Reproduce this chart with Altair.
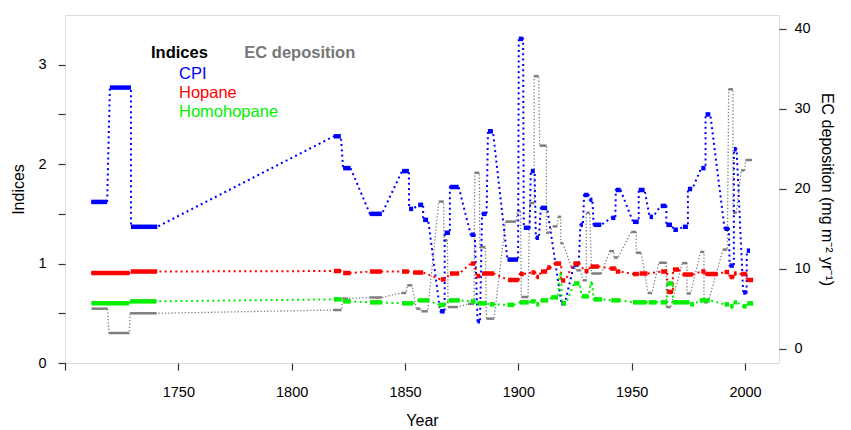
import altair as alt
import pandas as pd

# ---------------- data (sample intervals: start year, end year, value) ----------------
cpi_start = [1711.6, 1719.8, 1729.1, 1818.6, 1822.7, 1834.5, 1848.7, 1851.8, 1855.8, 1858.0,
             1865.5, 1867.5, 1869.8, 1879.0, 1882.0, 1884.0, 1886.6, 1895.2, 1900.2, 1902.4,
             1905.5, 1907.7, 1909.9, 1919.0, 1924.6, 1927.4, 1929.0, 1931.5, 1933.2, 1941.0,
             1943.0, 1950.6, 1953.1, 1957.9, 1962.8, 1965.3, 1968.4, 1972.6, 1974.8, 1980.7,
             1982.6, 1991.0, 1993.2, 1995.1, 1999.2, 2000.8]
cpi_end = [1718.6, 1729.1, 1740.7, 1821.7, 1826.0, 1839.8, 1851.7, 1853.6, 1858.0, 1860.2,
           1867.5, 1869.8, 1873.7, 1880.8, 1883.1, 1886.0, 1888.8, 1899.9, 1902.1, 1905.0,
           1907.2, 1909.1, 1912.7, 1920.5, 1926.6, 1928.5, 1931.0, 1932.7, 1936.6, 1942.8,
           1945.1, 1953.1, 1955.7, 1959.4, 1965.3, 1967.8, 1970.4, 1974.8, 1976.7, 1982.6,
           1984.7, 1992.9, 1995.1, 1996.3, 2000.7, 2002.2]
cpi_val = [1.62, 2.77, 1.37, 2.28, 1.96, 1.50, 1.93, 1.55, 1.59, 1.44,
           0.52, 1.31, 1.77, 1.29, 0.42, 1.50, 2.33, 1.04, 3.26, 1.36,
           1.93, 1.26, 1.56, 0.60, 0.99, 1.39, 1.69, 1.64, 1.39, 1.46,
           1.74, 1.42, 1.74, 1.47, 1.58, 1.39, 1.34, 1.37, 1.75, 1.96,
           2.50, 1.35, 0.98, 2.15, 0.71, 1.13]

hop_start = [1711.6, 1729.0, 1818.6, 1822.7, 1834.5, 1848.7, 1853.6, 1865.8, 1869.8, 1879.0,
             1881.5, 1884.0, 1895.5, 1900.6, 1905.8, 1908.0, 1910.0, 1912.7, 1916.0, 1918.9,
             1924.3, 1929.2, 1931.8, 1940.5, 1943.0, 1950.6, 1953.5, 1963.0, 1965.7, 1968.2,
             1972.6, 1980.7, 1982.6, 1991.0, 1993.2, 1995.1, 1998.3, 2000.7]
hop_end = [1728.5, 1740.7, 1821.7, 1826.0, 1839.8, 1851.7, 1858.0, 1867.9, 1873.9, 1880.8,
           1883.1, 1889.3, 1900.2, 1902.4, 1907.5, 1909.1, 1912.7, 1914.3, 1918.9, 1920.7,
           1927.0, 1931.0, 1935.5, 1943.0, 1945.0, 1953.1, 1957.0, 1965.7, 1968.2, 1970.9,
           1977.0, 1982.6, 1988.0, 1993.0, 1995.1, 1996.3, 2000.7, 2003.6]
hop_val = [0.905, 0.92, 0.925, 0.905, 0.92, 0.92, 0.91, 0.84, 0.90, 1.00,
           0.875, 0.90, 0.835, 0.895, 0.91, 0.865, 0.92, 0.96, 1.00, 0.83,
           1.00, 0.925, 0.97, 0.95, 0.92, 0.895, 0.90, 0.92, 0.715, 0.94,
           0.89, 0.92, 0.895, 0.915, 0.865, 0.90, 0.895, 0.835]

homo_start = [1711.7, 1728.7, 1818.6, 1822.7, 1834.5, 1848.7, 1855.8, 1865.0, 1869.3, 1879.0,
              1882.0, 1887.4, 1895.2, 1900.6, 1905.5, 1907.9, 1910.0, 1914.5, 1918.2, 1919.2,
              1924.6, 1928.0, 1931.8, 1933.2, 1941.0, 1950.6, 1957.5, 1962.8, 1965.7, 1968.2,
              1975.8, 1980.0, 1991.0, 1993.5, 1995.3, 1999.0, 2001.0]
homo_end = [1728.2, 1740.4, 1822.0, 1826.0, 1839.8, 1853.6, 1860.5, 1867.8, 1874.2, 1881.2,
            1886.0, 1889.6, 1898.1, 1904.6, 1907.5, 1909.1, 1913.2, 1917.5, 1918.9, 1921.0,
            1927.0, 1931.0, 1932.6, 1937.0, 1945.0, 1956.5, 1961.0, 1965.7, 1968.2, 1975.5,
            1977.5, 1984.5, 1993.0, 1995.0, 1996.5, 2000.7, 2003.6]
homo_val = [0.60, 0.62, 0.64, 0.62, 0.61, 0.60, 0.63, 0.585, 0.63, 0.62,
            0.60, 0.59, 0.585, 0.61, 0.62, 0.59, 0.63, 0.66, 0.89, 0.60,
            0.80, 0.67, 0.80, 0.64, 0.63, 0.61, 0.61, 0.61, 0.80, 0.61,
            0.59, 0.63, 0.59, 0.57, 0.61, 0.57, 0.60]

ec_start = [1711.7, 1719.4, 1728.7, 1818.3, 1822.4, 1834.5, 1848.4, 1851.0, 1855.0, 1857.3,
            1864.9, 1867.1, 1869.0, 1877.8, 1880.8, 1883.0, 1885.9, 1894.4, 1899.5, 1901.3,
            1905.0, 1907.0, 1909.4, 1912.4, 1915.3, 1917.5, 1918.7, 1923.4, 1925.6, 1928.5,
            1930.0, 1932.3, 1940.3, 1942.2, 1949.8, 1952.0, 1957.2, 1962.0, 1965.3, 1972.3,
            1974.4, 1980.4, 1981.9, 1990.3, 1992.8, 1994.7, 1998.3, 2000.3]
ec_end = [1718.8, 1728.4, 1740.4, 1822.0, 1824.9, 1839.8, 1850.6, 1853.1, 1856.8, 1860.0,
          1867.1, 1868.7, 1873.4, 1880.5, 1882.8, 1885.5, 1889.3, 1899.1, 1901.0, 1904.3,
          1907.0, 1909.0, 1912.4, 1913.5, 1917.2, 1918.7, 1919.7, 1924.9, 1927.5, 1930.0,
          1931.5, 1936.6, 1942.2, 1944.0, 1952.0, 1954.2, 1959.0, 1965.3, 1967.2, 1974.4,
          1976.0, 1981.9, 1983.7, 1992.2, 1994.7, 1996.2, 1999.8, 2003.1]
ec_val = [5.0, 1.95, 4.42, 4.83, 6.26, 6.4, 6.96, 7.92, 5.0, 4.67,
          18.4, 13.55, 5.2, 5.6, 22.0, 12.7, 3.75, 15.9, 17.2, 6.46,
          18.2, 34.1, 25.4, 14.5, 15.3, 16.5, 13.2, 10.2, 9.8, 8.55,
          17.0, 9.4, 12.2, 11.4, 14.6, 12.0, 6.96, 10.75, 5.2, 10.7,
          6.9, 12.1, 5.8, 12.4, 32.45, 17.0, 22.3, 23.6]

series_names = ["CPI", "Hopane", "Homohopane"]
series_colors = ["#0000FF", "#FF0000", "#00F000"]
ec_color = "#7F7F7F"


def seg_df(name, s, e, v):
    return pd.DataFrame({"series": name, "start": s, "end": e, "value": v})


def path_df(name, s, e, v):
    rows = []
    k = 0
    for a, b, val in zip(s, e, v):
        rows.append({"series": name, "year": a, "value": val, "order": k})
        k += 1
        rows.append({"series": name, "year": b, "value": val, "order": k})
        k += 1
    return pd.DataFrame(rows)


idx_segs = pd.concat([
    seg_df("CPI", cpi_start, cpi_end, cpi_val),
    seg_df("Hopane", hop_start, hop_end, hop_val),
    seg_df("Homohopane", homo_start, homo_end, homo_val),
])
idx_path = pd.concat([
    path_df("CPI", cpi_start, cpi_end, cpi_val),
    path_df("Hopane", hop_start, hop_end, hop_val),
    path_df("Homohopane", homo_start, homo_end, homo_val),
])
ec_segs = seg_df("EC", ec_start, ec_end, ec_val)
ec_path = path_df("EC", ec_start, ec_end, ec_val)

FONT = "Liberation Sans"
LINE = "#333333"

xscale = alt.Scale(domain=[1700, 2015], nice=False, zero=False)
xaxis = alt.Axis(title="Year", values=[1700, 1750, 1800, 1850, 1900, 1950, 2000],
                 labelExpr="datum.value == 1700 ? '' : datum.label", format="d",
                 grid=False, domain=False, tickSize=7, tickColor=LINE, tickWidth=1.2,
                 labelFontSize=14.5, labelColor="black", labelPadding=15, labelFont=FONT,
                 titleFontSize=16, titleFont=FONT, titleFontWeight="normal", titleColor="black",
                 titlePadding=14)

yl_scale = alt.Scale(domain=[0, 3.5], nice=False, zero=False)
yl_axis = alt.Axis(title="Indices", orient="left", values=[0, 0.5, 1, 1.5, 2, 2.5, 3],
                   labelExpr="datum.value % 1 == 0 ? '' + datum.value : ''",
                   grid=False, domain=False, tickSize=7, tickColor=LINE, tickWidth=1.2,
                   labelFontSize=14.5, labelColor="black", labelPadding=12, labelFont=FONT,
                   titleFontSize=16, titleFont=FONT, titleFontWeight="normal", titleColor="black",
                   titlePadding=11)

yr_scale = alt.Scale(domain=[-1.8, 41.75], nice=False, zero=False)
yr_axis = alt.Axis(title="EC deposition (mg m\u207b\u00b2 yr\u207b\u00b9)", orient="right",
                   values=[0, 10, 20, 30, 40], grid=False, domain=False, tickSize=7,
                   tickColor=LINE, tickWidth=1.2, labelFontSize=14.5, labelColor="black",
                   labelPadding=8, labelFont=FONT, titleFontSize=16, titleFont=FONT,
                   titleFontWeight="normal", titleColor="black", titlePadding=8, titleAngle=90)

color = alt.Color("series:N", scale=alt.Scale(domain=series_names, range=series_colors), legend=None)

idx_line = alt.Chart(idx_path).mark_line(strokeWidth=2, strokeDash=[2, 3.3]).encode(
    x=alt.X("year:Q", scale=xscale, axis=xaxis),
    y=alt.Y("value:Q", scale=yl_scale, axis=yl_axis),
    color=color,
    order="order:Q",
)
idx_rule = alt.Chart(idx_segs).mark_rule(strokeWidth=4.5).encode(
    x=alt.X("start:Q", scale=xscale, axis=xaxis),
    x2="end:Q",
    y=alt.Y("value:Q", scale=yl_scale, axis=yl_axis),
    color=color,
)

ec_line = alt.Chart(ec_path).mark_line(strokeWidth=1.3, strokeDash=[1.3, 2], color=ec_color).encode(
    x=alt.X("year:Q", scale=xscale, axis=xaxis),
    y=alt.Y("value:Q", scale=yr_scale, axis=yr_axis),
    order="order:Q",
)
ec_rule = alt.Chart(ec_segs).mark_rule(strokeWidth=2.5, color=ec_color).encode(
    x=alt.X("start:Q", scale=xscale, axis=xaxis),
    x2="end:Q",
    y=alt.Y("value:Q", scale=yr_scale, axis=yr_axis),
)

left_group = alt.layer(idx_line, idx_rule)
right_group = alt.layer(ec_line, ec_rule)


def label(text, px, py, col, bold=False):
    return alt.Chart(pd.DataFrame({"t": [text]})).mark_text(
        align="left", baseline="alphabetic", fontSize=16.5, font=FONT,
        fontWeight="bold" if bold else "normal", color=col,
    ).encode(text="t:N", x=alt.value(px), y=alt.value(py))


legend = [
    label("Indices", 86, 43.3, "black", True),
    label("EC deposition", 179.3, 43.3, "#777777", True),
    label("CPI", 114, 64.3, series_colors[0]),
    label("Hopane", 114, 83.3, series_colors[1]),
    label("Homohopane", 114, 102, series_colors[2]),
]

chart = alt.layer(right_group, left_group, *legend).resolve_scale(y="independent").properties(
    width=714, height=348,
    padding={"left": 65, "top": 15, "right": 72, "bottom": 67},
    autosize=alt.AutoSizeParams(type="none"),
).configure_view(stroke=LINE, strokeWidth=1.5).configure(background="white")

chart.save("out.html", embed_options={"renderer": "svg", "actions": False})
